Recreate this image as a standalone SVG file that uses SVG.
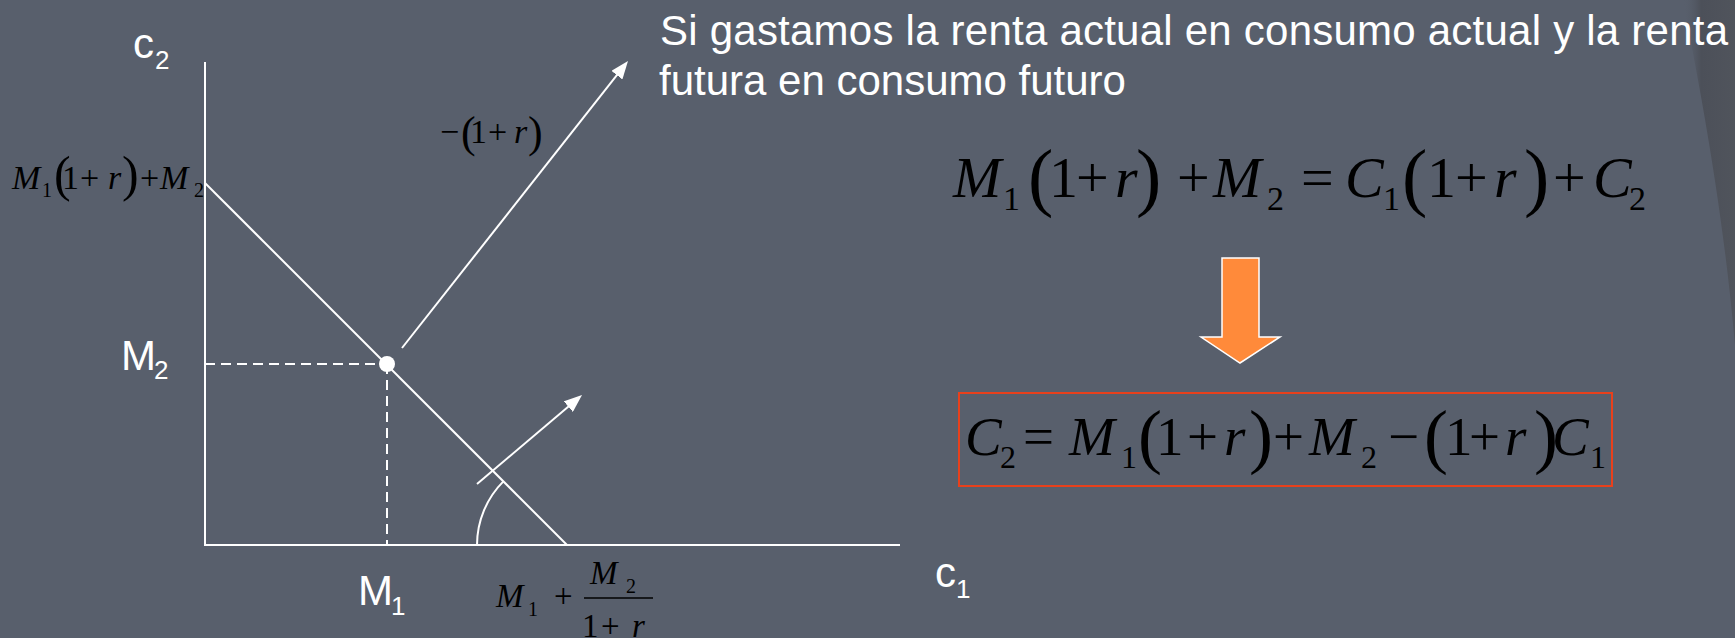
<svg xmlns="http://www.w3.org/2000/svg" width="1735" height="638" viewBox="0 0 1735 638">
<defs>
<style>
.ln{stroke:#fff;stroke-width:2;fill:none}
.dash{stroke:#fff;stroke-width:2;fill:none;stroke-dasharray:10 6}
.lbl{font-family:"Liberation Sans",Arial,sans-serif;fill:#fff}
.m{font-family:"Liberation Serif","Times New Roman",serif;fill:#000}
.i{font-style:italic}
</style>
<marker id="ah" markerUnits="userSpaceOnUse" markerWidth="20" markerHeight="14" refX="8" refY="7" orient="auto">
<path d="M0,0 L18,7 L0,14 z" fill="#fff"/>
</marker>
<linearGradient id="sw" x1="0" y1="0" x2="1" y2="0">
<stop offset="0" stop-color="#585F6C" stop-opacity="0"/>
<stop offset="0.35" stop-color="#4C5059"/>
<stop offset="1" stop-color="#50545C"/>
</linearGradient>
</defs>
<rect width="1735" height="638" fill="#585F6C"/>
<path d="M1683,0 C1700,90 1722,200 1735,345 L1735,0 Z" fill="url(#sw)"/>

<g id="axes">
<line class="ln" x1="205" y1="62" x2="205" y2="545"/>
<line class="ln" x1="204" y1="545" x2="900" y2="545"/>
</g>

<g id="budget-line">
<line class="ln" x1="205" y1="183" x2="567" y2="545"/>
<path class="ln" d="M477,545 A90,90 0 0 1 503.4,481.4"/>
</g>

<g id="endowment">
<line class="dash" x1="205" y1="364" x2="387" y2="364"/>
<line class="dash" x1="387" y1="364" x2="387" y2="545"/>
<circle cx="387" cy="364" r="8" fill="#fff"/>
</g>

<g id="connectors">
<line class="ln" stroke-width="2.5" x1="402" y1="348" x2="621.8" y2="68.9" marker-end="url(#ah)"/>
<line class="ln" stroke-width="2.5" x1="477" y1="484" x2="574.4" y2="401.5" marker-end="url(#ah)"/>
</g>

<g id="axis-labels" class="lbl">
<text x="133" y="58" font-size="42">c<tspan x="155" y="69" font-size="26">2</tspan></text>
<text x="121" y="370" font-size="42">M<tspan x="154" y="379" font-size="26">2</tspan></text>
<text x="358" y="605" font-size="42">M<tspan x="391" y="615" font-size="26">1</tspan></text>
<text x="935" y="587" font-size="42">c<tspan x="956" y="598" font-size="26">1</tspan></text>
</g>

<g id="label-intercept-y" class="m">
<text x="12" y="189" font-size="34" class="i">M</text>
<text x="42" y="197" font-size="20">1</text>
<text x="54" y="191" font-size="50">(</text>
<text x="62" y="189" font-size="34">1</text>
<text x="80" y="189" font-size="34">+</text>
<text x="108" y="189" font-size="34" class="i">r</text>
<text x="122" y="191" font-size="50">)</text>
<text x="140" y="189" font-size="34">+</text>
<text x="160" y="189" font-size="34" class="i">M</text>
<text x="194" y="197" font-size="20">2</text>
</g>

<g id="label-slope" class="m">
<text x="440" y="143" font-size="34">−</text>
<text x="461" y="147" font-size="44">(</text>
<text x="470" y="143" font-size="34">1</text>
<text x="488" y="143" font-size="34">+</text>
<text x="514" y="143" font-size="34" class="i">r</text>
<text x="528" y="147" font-size="44">)</text>
</g>

<g id="label-intercept-x" class="m">
<text x="496" y="607" font-size="33" class="i">M</text>
<text x="528" y="616" font-size="20">1</text>
<text x="554" y="607" font-size="33">+</text>
<text x="590" y="584" font-size="33" class="i">M</text>
<text x="626" y="593" font-size="20">2</text>
<line x1="584" y1="598" x2="653" y2="598" stroke="#000" stroke-width="1.5"/>
<text x="582" y="637" font-size="33">1</text>
<text x="601" y="637" font-size="33">+</text>
<text x="632" y="637" font-size="33" class="i">r</text>
</g>

<g id="text-block" class="lbl">
<text x="660" y="45" font-size="42" textLength="1068" lengthAdjust="spacing">Si gastamos la renta actual en consumo actual y la renta</text>
<text x="659" y="95" font-size="42">futura en consumo futuro</text>
</g>

<g id="equation-1" class="m">
<text x="953" y="197" font-size="58" class="i">M</text>
<text x="1003" y="210" font-size="34">1</text>
<text x="1028" y="202" font-size="76">(</text>
<text x="1049" y="197" font-size="58">1</text>
<text x="1076" y="197" font-size="58">+</text>
<text x="1115" y="197" font-size="58" class="i">r</text>
<text x="1136" y="202" font-size="76">)</text>
<text x="1177" y="197" font-size="58">+</text>
<text x="1213" y="197" font-size="58" class="i">M</text>
<text x="1267" y="210" font-size="34">2</text>
<text x="1301" y="197" font-size="58">=</text>
<text x="1345" y="197" font-size="58" class="i">C</text>
<text x="1383" y="210" font-size="34">1</text>
<text x="1402" y="202" font-size="76">(</text>
<text x="1427" y="197" font-size="58">1</text>
<text x="1455" y="197" font-size="58">+</text>
<text x="1494" y="197" font-size="58" class="i">r</text>
<text x="1524" y="202" font-size="76">)</text>
<text x="1553" y="197" font-size="58">+</text>
<text x="1593" y="197" font-size="58" class="i">C</text>
<text x="1629" y="210" font-size="34">2</text>
</g>

<g id="down-arrow">
<path d="M1222,258 L1259,258 L1259,337 L1280,337 L1240,363 L1201,337 L1222,337 Z" fill="#FF8A3A" stroke="#fff" stroke-width="1.5" stroke-linejoin="miter"/>
</g>

<g id="equation-2">
<rect x="959" y="393" width="653" height="93" fill="none" stroke="#E8401C" stroke-width="2"/>
<g class="m">
<text x="965" y="455" font-size="55" class="i">C</text>
<text x="1000" y="468" font-size="32">2</text>
<text x="1023" y="455" font-size="55">=</text>
<text x="1069" y="455" font-size="55" class="i">M</text>
<text x="1121" y="468" font-size="32">1</text>
<text x="1138" y="460" font-size="72">(</text>
<text x="1156" y="455" font-size="55">1</text>
<text x="1187" y="455" font-size="55">+</text>
<text x="1224" y="455" font-size="55" class="i">r</text>
<text x="1249" y="460" font-size="72">)</text>
<text x="1273" y="455" font-size="55">+</text>
<text x="1309" y="455" font-size="55" class="i">M</text>
<text x="1361" y="468" font-size="32">2</text>
<text x="1388" y="455" font-size="55">−</text>
<text x="1424" y="460" font-size="72">(</text>
<text x="1445" y="455" font-size="55">1</text>
<text x="1469" y="455" font-size="55">+</text>
<text x="1505" y="455" font-size="55" class="i">r</text>
<text x="1534" y="460" font-size="72">)</text>
<text x="1552" y="455" font-size="55" class="i">C</text>
<text x="1590" y="468" font-size="32">1</text>
</g>
</g>
</svg>
